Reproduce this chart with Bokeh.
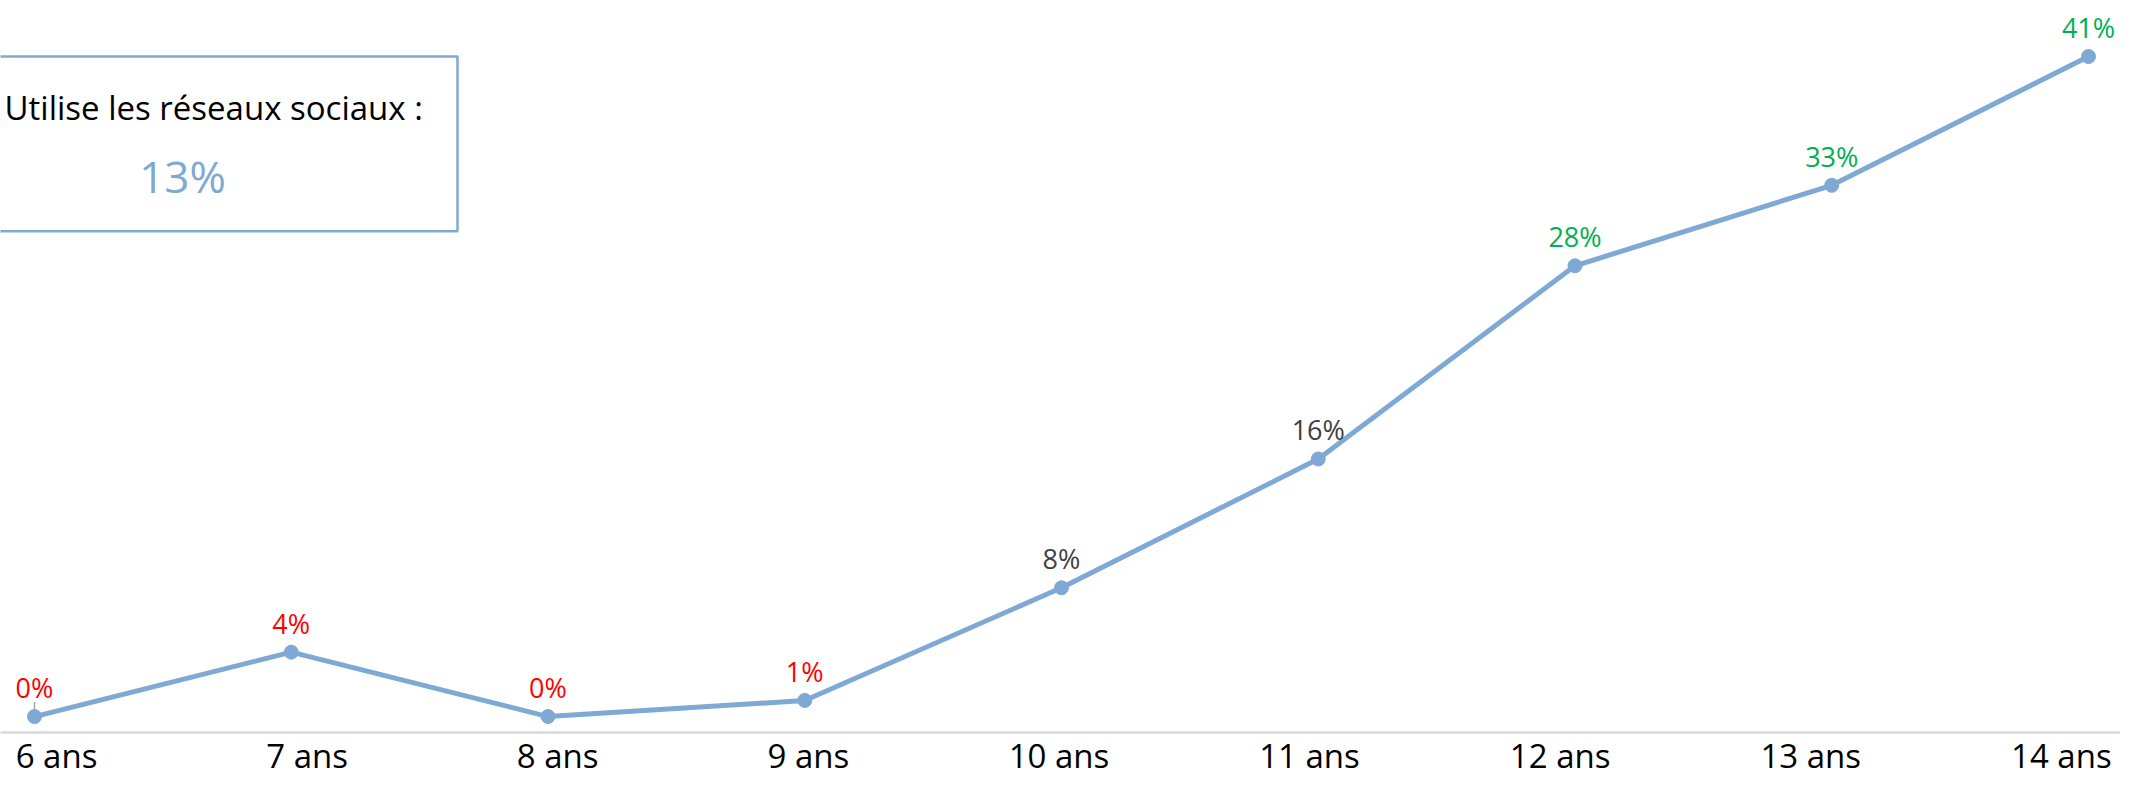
from bokeh.plotting import figure
from bokeh.models import FixedTicker, Range1d, ColumnDataSource, LinearAxis
from bokeh.core.properties import value
from bokeh.embed import file_html
from bokeh.resources import INLINE

ages = ["6 ans", "7 ans", "8 ans", "9 ans", "10 ans", "11 ans", "12 ans", "13 ans", "14 ans"]
shares = [0, 4, 0, 1, 8, 16, 28, 33, 41]
label_colors = ["#FF0000", "#FF0000", "#FF0000", "#FF0000", "#404040", "#404040", "#00B050", "#00B050", "#00B050"]
box_title = "Utilise les réseaux sociaux :"
box_value = "13%"

FONT = "Open Sans"
LINE = "#7EA9D4"

xs = list(range(len(ages)))
src = ColumnDataSource(dict(x=xs, y=shares, lab=[f"{v}%" for v in shares], col=label_colors))

p = figure(width=2120, height=780, output_backend="svg", toolbar_location=None,
           x_range=Range1d(-0.1324, 8.1246), y_range=Range1d(-0.99, 44.48),
           min_border=0, min_border_left=0, min_border_right=0, min_border_top=0, min_border_bottom=0)
p.outline_line_color = None
p.grid.visible = False
p.axis.visible = False

# category axis with its own spacing
p.extra_x_ranges = {"labels": Range1d(-0.2235, 8.236)}
ax = LinearAxis(x_range_name="labels")
ax.ticker = FixedTicker(ticks=xs)
ax.major_label_overrides = {i: a for i, a in enumerate(ages)}
ax.axis_line_color = "#D9D9D9"
ax.axis_line_width = 2.5
ax.major_tick_line_color = None
ax.minor_tick_line_color = None
ax.major_tick_out = 0
ax.major_tick_in = 0
ax.minor_tick_out = 0
ax.minor_tick_in = 0
ax.major_label_text_font = FONT
ax.major_label_text_font_size = "33px"
ax.major_label_text_color = "#000000"
ax.major_label_standoff = 0
p.add_layout(ax, "below")

# summary box
p.quad(left=-0.49, right=1.6475, top=41.0, bottom=30.15, fill_color=None,
       line_color=LINE, line_width=2.5)
p.text(x=[-0.1168], y=[37.84], text=[box_title], text_font=value(FONT), text_font_size="33px",
       text_color="#000000", text_align="left", text_baseline="middle")
p.text(x=[0.5764], y=[33.6], text=[box_value], text_font=value(FONT), text_font_size="44px",
       text_color=LINE, text_align="center", text_baseline="middle")

# small leader line
p.segment(x0=[xs[0]], y0=[shares[0]], x1=[xs[0]], y1=[shares[0] + 0.9], line_color="#A6A6A6", line_width=1.5)

p.line("x", "y", source=src, line_color=LINE, line_width=5)
p.scatter("x", "y", source=src, size=14, fill_color=LINE, line_color=LINE)
p.text("x", "y", text="lab", source=src, text_color="col", text_font=value(FONT),
       text_font_size="27px", text_align="center", text_baseline="alphabetic", y_offset=-29)

open("out.html", "w").write(file_html(p, INLINE))
